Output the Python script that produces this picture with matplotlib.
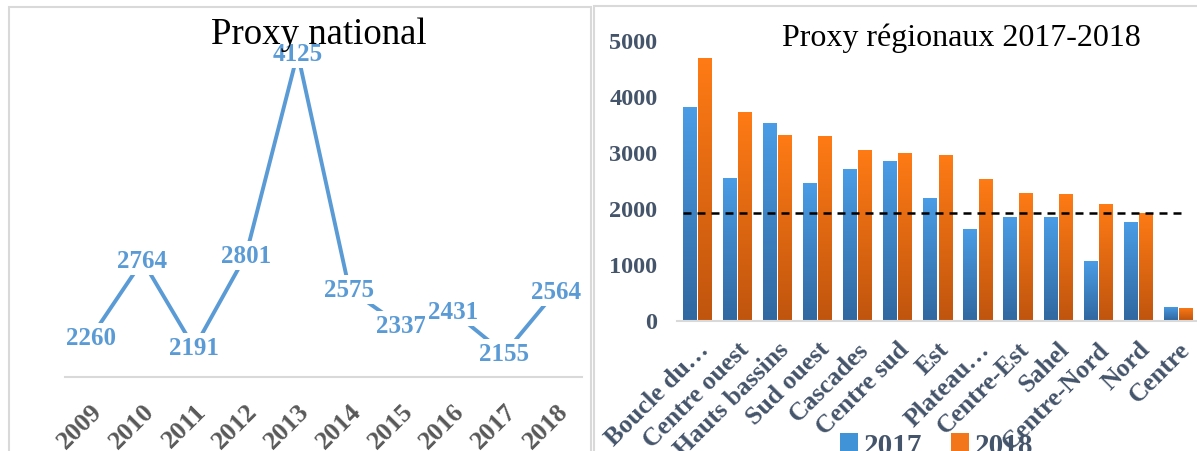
import numpy as np
import matplotlib
matplotlib.use('Agg')
import matplotlib.pyplot as plt
from matplotlib.colors import LinearSegmentedColormap
from matplotlib.patches import Rectangle, Patch
import matplotlib.transforms as mtransforms

plt.rcParams['font.family'] = ['Liberation Serif', 'DejaVu Serif']

# donnees
annees = ['2009', '2010', '2011', '2012', '2013', '2014', '2015', '2016', '2017', '2018']
national = [2260, 2764, 2191, 2801, 4125, 2575, 2337, 2431, 2155, 2564]

regions = ['Boucle du\u2026', 'Centre ouest', 'Hauts bassins', 'Sud ouest', 'Cascades',
           'Centre sud', 'Est', 'Plateau\u2026', 'Centre-Est', 'Sahel', 'Centre-Nord',
           'Nord', 'Centre']
proxy_2017 = [3800, 2540, 3520, 2450, 2700, 2840, 2180, 1630, 1840, 1840, 1060, 1750, 240]
proxy_2018 = [4680, 3710, 3300, 3290, 3040, 2980, 2950, 2520, 2270, 2250, 2070, 1910, 220]
seuil = 1920

W, H = 1197, 452
fig = plt.figure(figsize=(W / 100, H / 100), dpi=100)

blue = '#5B9BD5'
grey_txt = '#595959'
slate = '#44546A'
border = '#D9D9D9'

# cadres des deux panneaux
fig.patches.append(Rectangle((9 / W, -0.1), 582 / W, 1.1 - 8 / H, transform=fig.transFigure,
                             fill=False, ec=border, lw=1.5))
fig.patches.append(Rectangle((594 / W, -0.1), 1.0, 1.1 - 7 / H, transform=fig.transFigure,
                             fill=False, ec=border, lw=1.5))

# ---- panneau gauche : proxy national
ax1 = fig.add_axes([65 / W, 1 - 378 / H, 517 / W, 358 / H])
x = np.arange(len(annees))
ax1.plot(x, national, color=blue, lw=2.8, zorder=2, solid_capstyle='butt')
for xi, v in zip(x, national):
    ax1.text(xi, v, str(v), ha='center', va='center', fontsize=18, fontweight='bold',
             color=blue, zorder=3,
             bbox=dict(boxstyle='square,pad=0.12', fc='white', ec='none'))
ax1.set_xlim(-0.5, len(annees) - 0.5)
ax1.set_ylim(2000, 4351)
ax1.set_yticks([])
ax1.set_xticks(x)
ax1.set_xticklabels(annees, rotation=45, ha='right', va='top', rotation_mode='anchor',
                    fontsize=19, fontweight='bold', color=grey_txt)
ax1.tick_params(axis='x', length=0, pad=16)
for s in ['left', 'right', 'top']:
    ax1.spines[s].set_visible(False)
ax1.spines['bottom'].set_color(border)
ax1.spines['bottom'].set_linewidth(1.5)
ax1.patch.set_alpha(0)
fig.text(319 / W, 1 - 35 / H, 'Proxy national', ha='center', va='center', fontsize=26.5)

# ---- panneau droit : proxy regionaux
ax2 = fig.add_axes([677 / W, 1 - 321.5 / H, 521 / W, 301.5 / H])
xr = np.arange(len(regions))
bw = 0.33
b17 = ax2.bar(xr - 0.19, proxy_2017, bw, fc='none', ec='none')
b18 = ax2.bar(xr + 0.19, proxy_2018, bw, fc='none', ec='none')

grad = np.linspace(0, 1, 256).reshape(-1, 1)


def degrade(bars, bas, haut):
    cmap = LinearSegmentedColormap.from_list('d', [bas, haut])
    for b in bars:
        x0, w, h = b.get_x(), b.get_width(), b.get_height()
        im = ax2.imshow(grad, cmap=cmap, extent=(x0, x0 + w, 0, h), origin='lower',
                        aspect='auto', zorder=2)
        im.set_clip_path(b)


degrade(b17, '#3168A0', '#4A9DE6')
degrade(b18, '#C0550E', '#FF7B15')

ax2.axhline(seuil, xmin=0.0106, xmax=0.977, color='black', lw=1.8,
            dashes=(3.2, 2.4), zorder=4)

ax2.set_xlim(-0.5, len(regions) - 0.5)
ax2.set_ylim(0, 5369)
ax2.set_yticks(np.arange(0, 5001, 1000))
ax2.set_yticklabels([str(v) for v in range(0, 5001, 1000)], fontsize=17.5,
                    fontweight='bold', color=slate)
ax2.set_xticks(xr)
ax2.set_xticklabels(regions, rotation=45, ha='right', va='top', rotation_mode='anchor',
                    fontsize=18.5, fontweight='bold', color=slate)
# les libelles tronques sont decales comme dans l'original
for lab in ax2.get_xticklabels():
    if lab.get_text().endswith('\u2026'):
        lab.set_transform(lab.get_transform() +
                          mtransforms.ScaledTranslation(14 / 100, 14 / 100, fig.dpi_scale_trans))
ax2.tick_params(axis='x', length=0, pad=12)
ax2.tick_params(axis='y', length=0, pad=14)
for s in ['left', 'right', 'top']:
    ax2.spines[s].set_visible(False)
ax2.spines['bottom'].set_color(border)
ax2.spines['bottom'].set_linewidth(1.5)
ax2.patch.set_alpha(0)
fig.text(961 / W, 1 - 38 / H, 'Proxy r\u00e9gionaux 2017-2018', ha='center', va='center',
         fontsize=23)

handles = [Patch(fc='#4193D8'), Patch(fc='#F3761A')]
fig.legend(handles, ['2017', '2018'], loc='upper left', bbox_to_anchor=(840 / W, 1 - 433 / H),
           ncol=2, frameon=False, prop=dict(size=21, weight='bold'), labelcolor=slate,
           handlelength=0.6, handleheight=0.6, handletextpad=0.2, columnspacing=1.0,
           borderpad=0, borderaxespad=0)

fig.savefig('out.png', dpi=100)
